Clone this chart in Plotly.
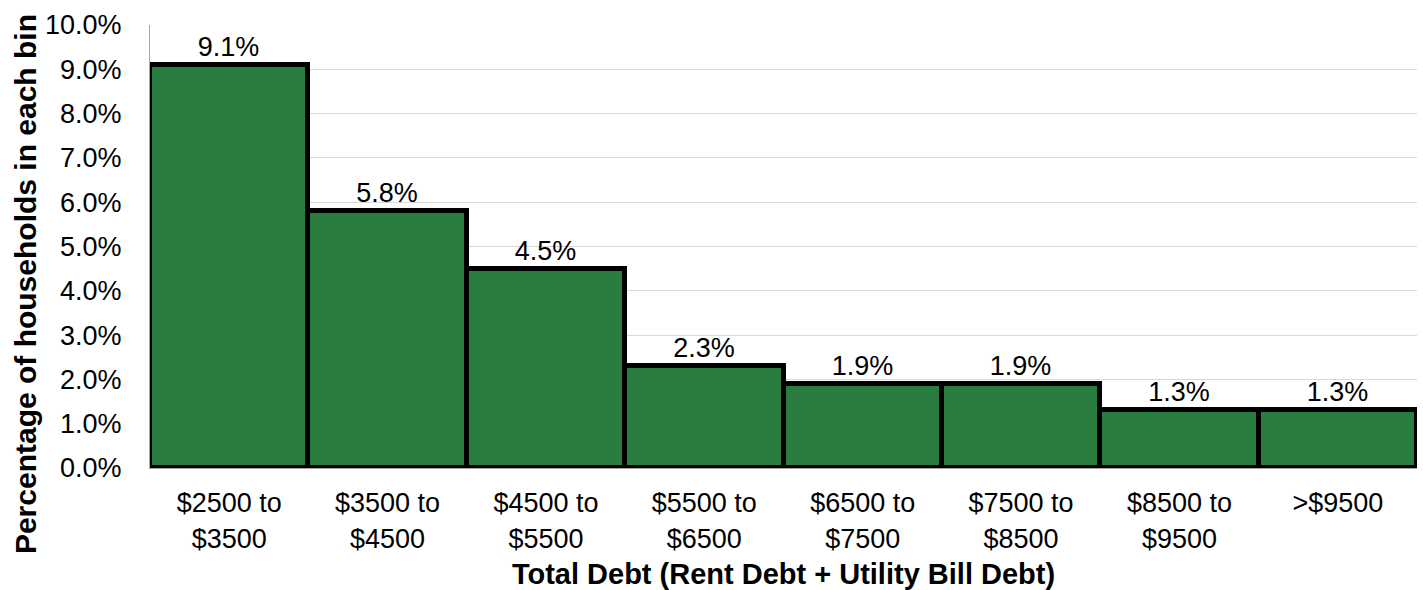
import plotly.graph_objects as go

categories = ["$2500 to<br>$3500", "$3500 to<br>$4500", "$4500 to<br>$5500", "$5500 to<br>$6500",
              "$6500 to<br>$7500", "$7500 to<br>$8500", "$8500 to<br>$9500", ">$9500"]
values = [0.091, 0.058, 0.045, 0.023, 0.019, 0.019, 0.013, 0.013]
labels = ["9.1%", "5.8%", "4.5%", "2.3%", "1.9%", "1.9%", "1.3%", "1.3%"]
y_title = "Percentage of households in each bin"
x_title = "Total Debt (Rent Debt + Utility Bill Debt)"

fig = go.Figure(go.Bar(
    x=categories, y=values, text=labels, textposition="outside",
    textfont=dict(size=27, color="black"),
    marker=dict(color="#2a7d40", line=dict(color="black", width=5)),
    cliponaxis=False,
))
fig.update_layout(
    width=1423, height=590,
    margin=dict(l=150, r=6, t=25, b=122),
    paper_bgcolor="white", plot_bgcolor="white",
    font=dict(family="Liberation Sans, Arial, sans-serif", size=27, color="black"),
    bargap=0, showlegend=False,
    xaxis=dict(showline=True, linecolor="#a6a6a6", linewidth=1, ticks="", automargin=False,
               tickfont=dict(size=27), ticklabelstandoff=11,
               title=dict(text="<b>" + x_title + "</b>", font=dict(size=29), standoff=11)),
    yaxis=dict(range=[0, 0.1], dtick=0.01, tickformat=".1%", showgrid=True, gridcolor="#d9d9d9",
               gridwidth=1, showline=True, linecolor="#a6a6a6", linewidth=1, ticks="",
               zeroline=False, ticklabelstandoff=22, tickfont=dict(size=27), automargin=False),
    annotations=[dict(text="<b>" + y_title + "</b>", textangle=-90, showarrow=False,
                      xref="paper", yref="paper", x=-0.0987, y=0.415,
                      xanchor="center", yanchor="middle", font=dict(size=30))],
)
fig.write_html("out.html", config={"displayModeBar": False},
               post_script="document.body.style.margin='0';")
